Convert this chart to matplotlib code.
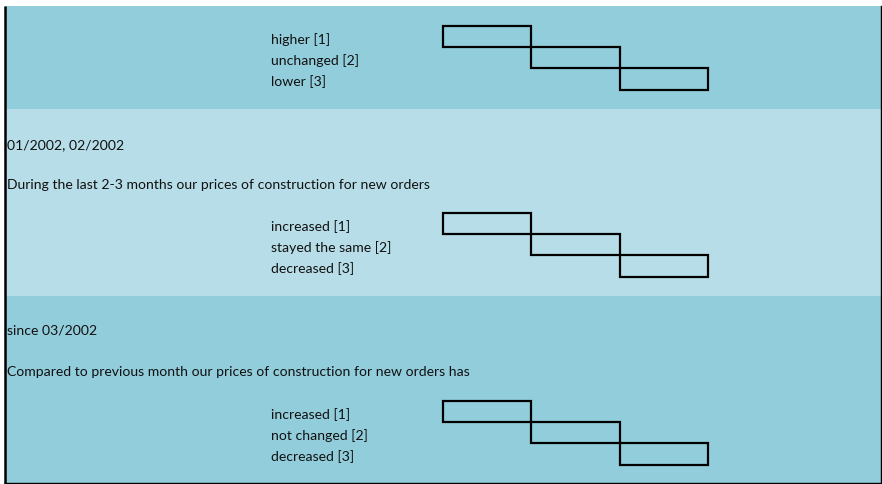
import matplotlib
matplotlib.use("Agg")
import matplotlib.pyplot as plt

# Survey question blocks (questionnaire sheet)
periods = ["", "01/2002, 02/2002", "since 03/2002"]
questions = ["",
             "During the last 2-3 months our prices of construction for new orders",
             "Compared to previous month our prices of construction for new orders has"]
answers = [["higher [1]", "unchanged [2]", "lower [3]"],
           ["increased [1]", "stayed the same [2]", "decreased [3]"],
           ["increased [1]", "not changed [2]", "decreased [3]"]]
codes = [1, 2, 3]

# layout in pixels
band_top = [7, 110, 297]
band_bot = [110, 297, 484]
band_col = ["#92CDDC", "#B7DEE8", "#92CDDC"]
period_y = [None, 145, 331]
question_y = [None, 185, 372]
box_top = [27, 214, 402]
box_h = 21.2
box_x0 = 442.5
box_w = 88.5
text_x = 271
fs = 10.1

plt.rcParams['font.family'] = ['Lato', 'DejaVu Sans']

fig = plt.figure(figsize=(8.82, 4.85), dpi=100)
ax = fig.add_axes([0, 0, 1, 1])
ax.set_xlim(0, 882)
ax.set_ylim(485, 0)
ax.axis('off')

for b in range(3):
    ax.axhspan(band_top[b], band_bot[b], xmin=5 / 882, xmax=881 / 882,
               color=band_col[b], lw=0, zorder=0)
    if periods[b]:
        ax.text(7, period_y[b], periods[b], fontsize=fs, va='center',
                ha='left', color='#111111')
    if questions[b]:
        ax.text(7, question_y[b], questions[b], fontsize=fs, va='center',
                ha='left', color='#111111')
    for i, c in enumerate(codes):
        y0 = box_top[b] + box_h * (c - 1)
        ax.bar(box_x0 + box_w * (c - 1), box_h, width=box_w, bottom=y0,
               align='edge', facecolor='none', edgecolor='black', lw=1.6,
               zorder=3)
        ax.text(text_x, y0 + box_h / 2 + 2, answers[b][i], fontsize=fs,
                va='center', ha='left', color='#111111')

# sheet borders
ax.plot([5, 5], [7, 485], color='black', lw=1.8, solid_capstyle='butt')
ax.plot([881.3, 881.3], [7, 485], color='black', lw=1.0)
ax.plot([5, 882], [484.3, 484.3], color='black', lw=1.0)

fig.savefig("out.png", dpi=100)
